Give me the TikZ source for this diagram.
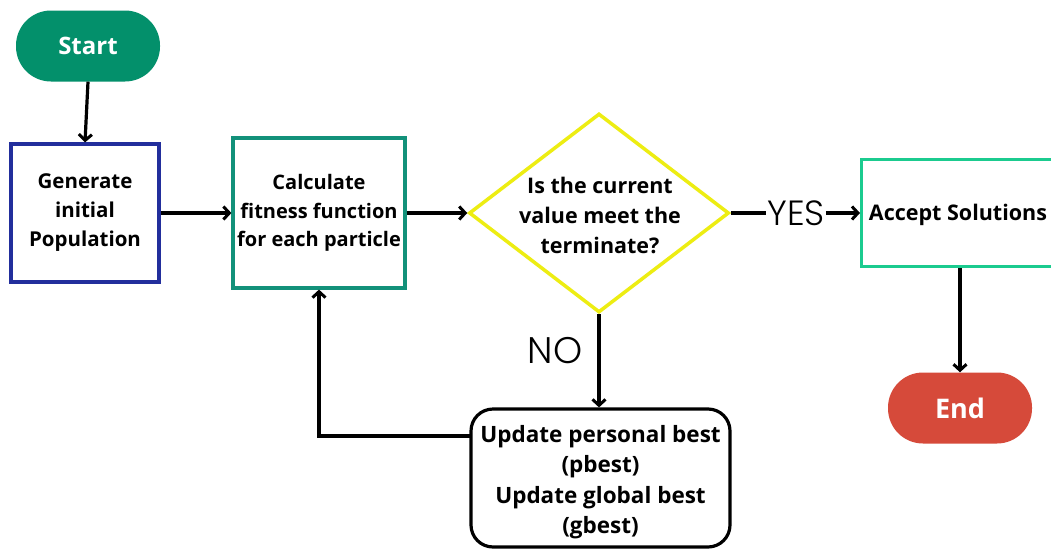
\documentclass[tikz,border=0pt]{standalone}
\usepackage{fontspec}
\setmainfont{Open Sans}
\newfontfamily\lightfont{Poppins Light}
\usetikzlibrary{shapes.geometric,arrows.meta}
\definecolor{startgreen}{HTML}{03906B}
\definecolor{genblue}{HTML}{222E9C}
\definecolor{calcteal}{HTML}{12917A}
\definecolor{decyellow}{HTML}{EDED12}
\definecolor{accgreen}{HTML}{1BCB8F}
\definecolor{endred}{HTML}{D64A3A}
\newcommand{\boxfont}[2]{\bfseries\fontsize{#1}{#2}\selectfont}
\begin{document}
\begin{tikzpicture}[x=1pt,y=-1pt,
  every node/.style={align=center},
  terminal/.style={rectangle, rounded corners=35pt, minimum width=144pt, minimum height=71pt, text=white},
  procbox/.style={rectangle, draw, line width=3.2pt, fill=white},
  flow/.style={line width=3.2pt, -{Straight Barb[length=6pt,width=13pt,line width=3pt]}},
  plain/.style={line width=3.2pt},
  answer/.style={inner sep=1pt}
]
\clip (0,0) rectangle (1051,549);
\fill[white] (0,0) rectangle (1051,549);

\node[terminal, fill=startgreen, font=\boxfont{24}{28}] (start) at (88,46) {Start};
\node[procbox, draw=genblue, minimum width=148pt, minimum height=138pt, font=\boxfont{20.5}{29}] (gen) at (85,213) {Generate\\initial\\Population};
\node[procbox, draw=calcteal, minimum width=172pt, minimum height=150pt, font=\boxfont{20}{28.5}] (calc) at (319,213) {Calculate\\fitness function\\for each particle};
% decision diamond with its question set on top
\node[diamond, draw=decyellow, line width=3.5pt, minimum width=260pt, minimum height=199pt, inner sep=0pt] (dec) at (599,213) {};
\node[font=\boxfont{21.5}{30}] (dectext) at (600,215) {Is the current\\value meet the\\terminate?};
\node[procbox, draw=accgreen, minimum width=198pt, minimum height=107pt, anchor=west] (acc) at (860,213) {};
\node[font=\boxfont{21.5}{28}] (acctext) at (958,215) {Accept Solutions};
\node[terminal, fill=endred, font=\boxfont{27}{30}] (end) at (960,408) {End};
\node[procbox, draw=black, rounded corners=22pt, minimum width=259pt, minimum height=138pt] (upd) at (600.5,478) {};
\node[font=\boxfont{22.5}{30.5}] (updtext) at (600.5,482) {Update personal best\\(pbest)\\Update global best\\(gbest)};

\node[answer, font=\lightfont\fontsize{35}{38}\selectfont] (yes) at (796,213) {YES};
\node[answer, font=\lightfont\fontsize{37}{40}\selectfont] (no) at (555,351) {NO};
\coordinate (fb) at (470,436);

\draw[flow] (start.south) -- (gen.north);
\draw[flow] (gen.east) -- (calc.west);
\draw[flow] (calc.east) -- (dec.west);
\draw[plain] (dec.east) -- (yes.west);
\draw[flow] (yes.east) -- (acc.west);
\draw[flow] (acc.south -| end.north) -- (end.north);
\draw[flow] (dec.south) -- (upd.north -| dec.south);
\draw[flow] (fb) -| (calc.south);
\end{tikzpicture}
\end{document}
